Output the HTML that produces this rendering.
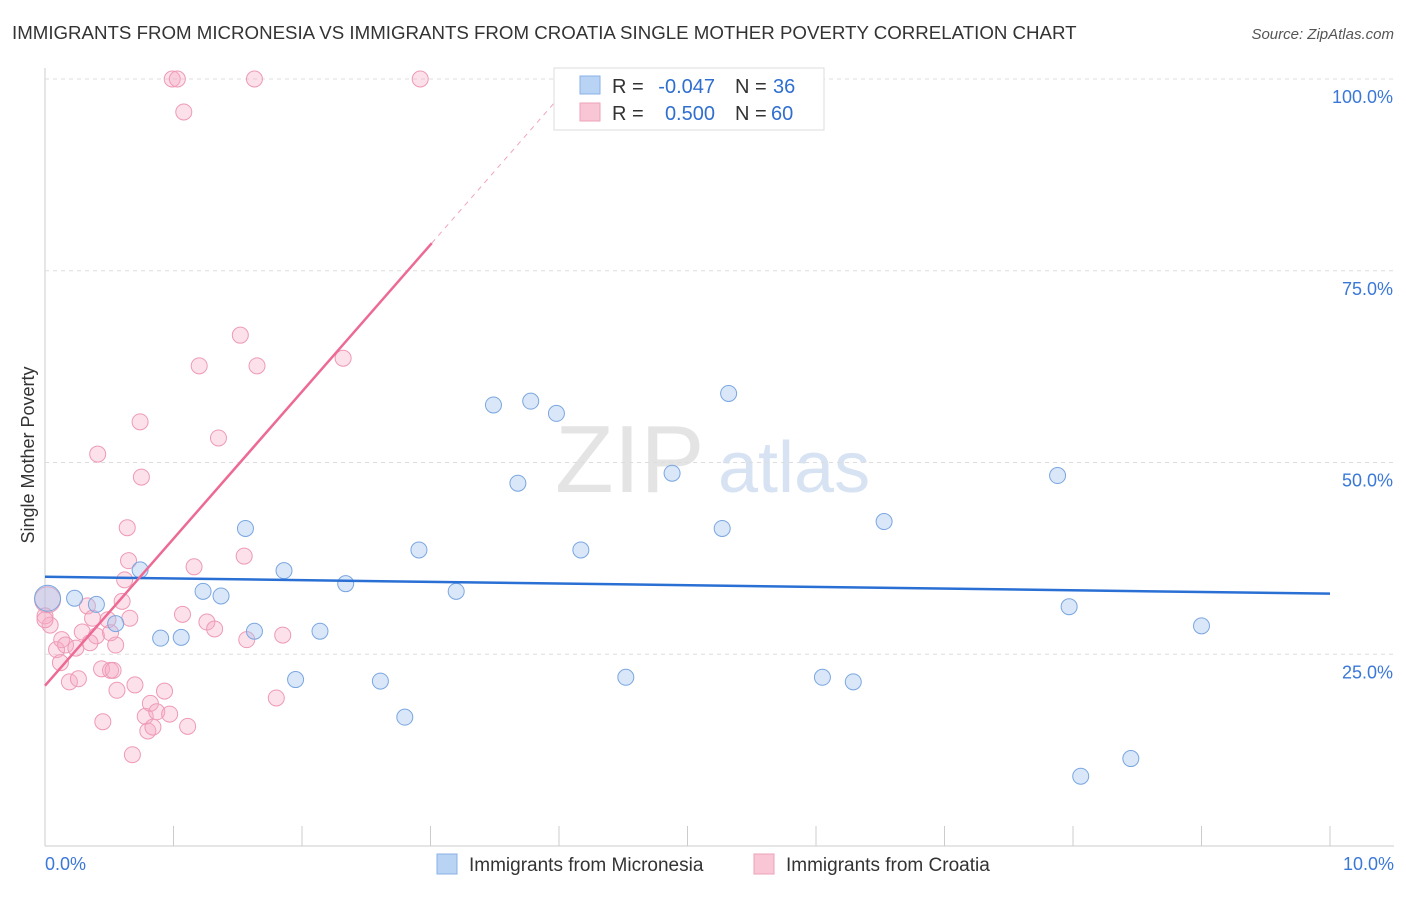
<!DOCTYPE html>
<html><head><meta charset="utf-8"><style>
body{margin:0;background:#fff;font-family:"Liberation Sans",sans-serif;}
svg text{font-family:"Liberation Sans",sans-serif;}
</style></head><body>
<svg id="c" width="1406" height="892">
<text x="12" y="39" font-size="18.7" fill="#333">IMMIGRANTS FROM MICRONESIA VS IMMIGRANTS FROM CROATIA SINGLE MOTHER POVERTY CORRELATION CHART</text>
<text x="1394" y="39" font-size="15" fill="#555" font-style="italic" text-anchor="end">Source: ZipAtlas.com</text>
<text x="34" y="455" font-size="18" fill="#333" text-anchor="middle" transform="rotate(-90 34 455)">Single Mother Poverty</text>
<text x="555" y="492" font-size="96" fill="#e4e4e4" font-family="Liberation Serif">ZIP</text>
<text x="718" y="492" font-size="72" fill="#d7e3f3">atlas</text>
<g id="grid"></g><g id="marks"></g>
<g>
<rect x="554" y="68" width="270" height="62" fill="#fff" stroke="#ddd"/>
<rect x="580" y="76" width="20" height="18" fill="#b9d3f5" stroke="#8ab2e8"/>
<rect x="580" y="103" width="20" height="18" fill="#f9c6d6" stroke="#eea3ba"/>
<text x="612" y="93" font-size="20" fill="#333">R =</text>
<text x="715" y="93" font-size="20" fill="#2f6fd0" text-anchor="end">-0.047</text>
<text x="735" y="93" font-size="20" fill="#333">N =</text>
<text x="773" y="93" font-size="20" fill="#2f6fd0">36</text>
<text x="612" y="120" font-size="20" fill="#333">R =</text>
<text x="715" y="120" font-size="20" fill="#2f6fd0" text-anchor="end">0.500</text>
<text x="735" y="120" font-size="20" fill="#333">N =</text>
<text x="771" y="120" font-size="20" fill="#2f6fd0">60</text>
</g>
<g>
<rect x="437" y="854" width="20" height="20" fill="#b9d3f5" stroke="#8ab2e8"/>
<text x="469" y="871" font-size="19" fill="#333">Immigrants from Micronesia</text>
<rect x="754" y="854" width="20" height="20" fill="#f9c6d6" stroke="#eea3ba"/>
<text x="786" y="871" font-size="19" fill="#333">Immigrants from Croatia</text>
</g>
</svg>
<script>
const xTicks=[0,1,2,3,4,5,6,7,8,9,10];
const yTicks=[25,50,75,100];
const blueX=[0.02,0.23,0.40,0.55,0.74,0.90,1.06,1.23,1.37,1.56,1.63,1.86,1.95,2.14,2.34,2.61,2.80,2.91,3.20,3.49,3.68,3.78,3.98,4.17,4.52,4.88,5.27,5.32,6.05,6.29,6.53,7.88,7.97,8.06,8.45,9.00];
const blueY=[32.3,32.3,31.5,29.0,36.0,27.1,27.2,33.2,32.6,41.4,28.0,35.9,21.7,28.0,34.2,21.5,16.8,38.6,33.2,57.5,47.3,58.0,56.4,38.6,22.0,48.6,41.4,59.0,22.0,21.4,42.3,48.3,31.2,9.1,11.4,28.7];
const pinkX=[0.02,0.04,0.09,0.12,0.13,0.16,0.19,0.24,0.26,0.29,0.33,0.37,0.40,0.41,0.45,0.44,0.49,0.51,0.53,0.55,0.56,0.60,0.62,0.64,0.65,0.68,0.70,0.74,0.75,0.78,0.80,0.82,0.84,0.87,0.93,0.97,0.99,1.03,1.07,1.08,1.11,1.16,1.20,1.26,1.32,1.35,1.52,1.55,1.57,1.63,1.65,1.80,1.85,2.32,2.92,0.00,0.35,0.51,0.66,0.00];
const pinkY=[32.1,28.8,25.6,23.9,26.9,26.2,21.4,25.8,21.8,27.9,31.3,29.7,27.4,51.1,16.2,23.1,29.5,22.9,22.9,26.2,20.3,31.9,34.7,41.5,37.2,11.9,21.0,55.3,48.1,16.9,15.0,18.6,15.5,17.5,20.2,17.2,100,100,30.2,95.7,15.6,36.4,62.6,29.2,28.3,53.2,66.6,37.8,26.9,100,62.6,19.3,27.5,63.6,100,30.0,26.5,27.8,29.7,29.5];
const X=v=>45+v*128.5, Y=v=>846-v*7.67;
const NS="http://www.w3.org/2000/svg";
const grid=document.getElementById('grid'), marks=document.getElementById('marks');
function mk(p,tag,a){const e=document.createElementNS(NS,tag);for(const k in a)e.setAttribute(k,a[k]);p.appendChild(e);return e;}
let ax=mk(grid,'line',{x1:45,y1:68,x2:45,y2:846,stroke:'#ccc'});


let bx=mk(grid,'line',{x1:45,y1:846,x2:1394,y2:846,stroke:'#ccc'});


yTicks.forEach(t=>{
 const g=mk(grid,'line',{x1:45,y1:Y(t),x2:1394,y2:Y(t),stroke:'#ddd','stroke-dasharray':'4,4'});
 
 
 const tx=mk(grid,'text',{x:1393,y:Y(t)+24,'font-size':18,fill:'#3a78d8','text-anchor':'end'});tx.textContent=t.toFixed(1)+'%';
 
 
});
xTicks.forEach(t=>{
 const l=mk(grid,'line',{x1:X(t),y1:826,x2:X(t),y2:846,stroke:'#ccc'});
 
 
});
[[0,'0.0%','start',45],[10,'10.0%','end',1394]].forEach(a=>{
 const tx=mk(grid,'text',{x:a[3],y:870,'font-size':18,fill:'#3a78d8','text-anchor':a[2]});tx.textContent=a[1];
 
 
});
pinkX.forEach((x,i)=>{
 const c=mk(marks,'circle',{cx:X(x),cy:Y(pinkY[i]),r:i==0?13:8,fill:'rgba(246,170,195,0.35)',stroke:'#ee9ab5','stroke-width':1});
 
 
});
blueX.forEach((x,i)=>{
 const c=mk(marks,'circle',{cx:X(x),cy:Y(blueY[i]),r:i==0?13:8,fill:'rgba(160,195,240,0.4)',stroke:'#7aa6e0','stroke-width':1});
 
 
});
let bl=mk(marks,'line',{x1:X(0),y1:Y(35.1),x2:X(10),y2:Y(32.9),stroke:'#2a6fd4','stroke-width':2.5});


let pl=mk(marks,'line',{x1:X(0),y1:Y(20.9),x2:X(3.01),y2:Y(78.6),stroke:'#ec6a94','stroke-width':2.5});


let pd=mk(marks,'line',{x1:X(3.01),y1:Y(78.6),x2:X(4.0),y2:Y(97.6),stroke:'#f0a5bd','stroke-width':1,'stroke-dasharray':'5,5'});


</script>
</body></html>
